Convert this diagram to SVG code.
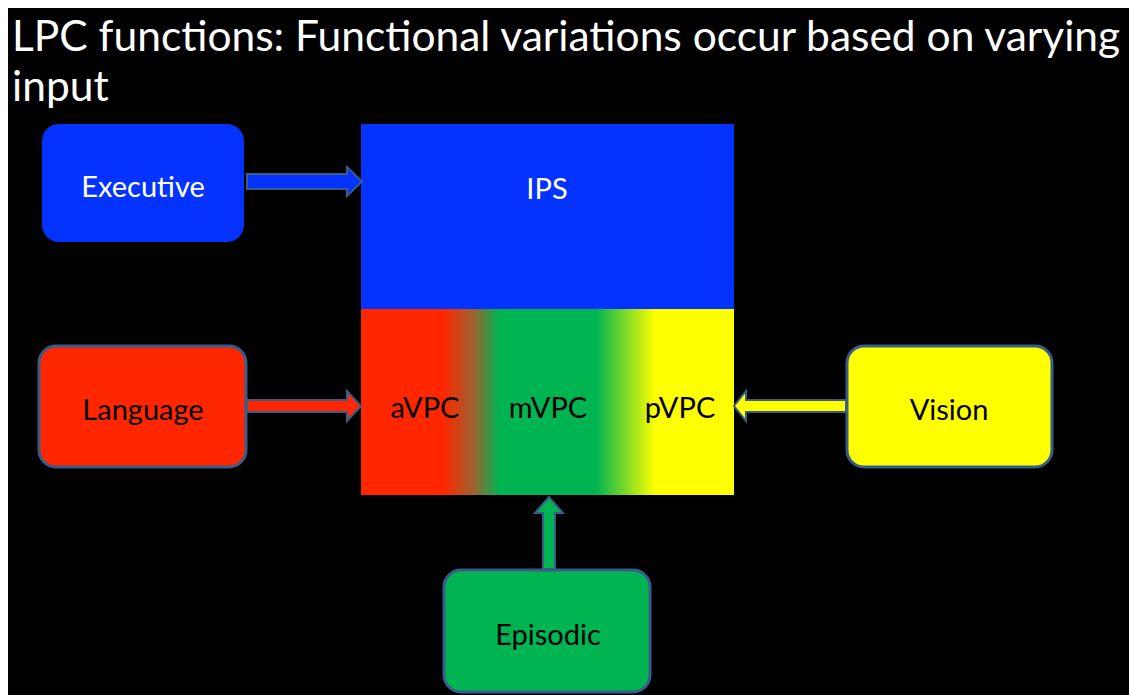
<svg xmlns="http://www.w3.org/2000/svg" width="1129" height="695" viewBox="0 0 1129 695">
<defs>
<style>
.title{font-family:Lato,"Open Sans","Liberation Sans",sans-serif;font-size:42.5px;fill:#fff}
.lbl{font-family:Lato,"Open Sans","Liberation Sans",sans-serif;font-size:29px;text-anchor:middle}
.w{fill:#fff}.k{fill:#000}
.node{stroke:#385D8A;stroke-width:3}
.arr{stroke:#385D8A;stroke-width:2;stroke-linejoin:miter}
</style>
<linearGradient id="vpc" x1="0" y1="0" x2="1" y2="0">
<stop offset="0" stop-color="#FF2600"/>
<stop offset="0.22" stop-color="#FF2600"/>
<stop offset="0.30" stop-color="#A0602D"/>
<stop offset="0.37" stop-color="#00B451"/>
<stop offset="0.63" stop-color="#00B451"/>
<stop offset="0.79" stop-color="#FFFF00"/>
<stop offset="1" stop-color="#FFFF00"/>
</linearGradient>
</defs>
<rect x="0" y="0" width="1129" height="695" fill="#fff"/>
<rect x="8" y="8" width="1121" height="687" fill="#000"/>
<text class="title" x="12" y="51">LPC functions: Functional variations occur based on varying</text>
<text class="title" x="12" y="101">input</text>
<g id="ips">
<rect x="361" y="124" width="373" height="185" fill="#0433FF"/>
<text class="lbl w" x="547" y="199">IPS</text>
</g>
<g id="vpc-region">
<rect x="361" y="309" width="373" height="186" fill="url(#vpc)"/>
<text class="lbl k" x="425" y="418">aVPC</text>
<text class="lbl k" x="548" y="418">mVPC</text>
<text class="lbl k" x="680" y="418">pVPC</text>
</g>
<g id="executive">
<rect x="42" y="124" width="202" height="118" rx="17" fill="#0433FF"/>
<text class="lbl w" x="143" y="197">Executive</text>
</g>
<g id="language">
<rect x="39" y="346" width="207" height="121" rx="17" fill="#FF2600" class="node"/>
<text class="lbl k" x="143" y="420">Language</text>
</g>
<g id="vision">
<rect x="847" y="346" width="205" height="121" rx="17" fill="#FFFF00" class="node"/>
<text class="lbl k" x="949" y="420">Vision</text>
</g>
<g id="episodic">
<rect x="444" y="570" width="206" height="122" rx="17" fill="#00B451" class="node"/>
<text class="lbl k" x="548" y="645">Episodic</text>
</g>
<g id="connectors">
<polygon class="arr" fill="#0433FF" points="247,174 347,174 347,167 362,181.5 347,196 347,189 247,189"/>
<polygon class="arr" fill="#FF2600" points="247,400 347,400 347,391 361,406 347,421 347,412 247,412"/>
<polygon class="arr" fill="#FFFF00" points="846,400 746,400 746,391 734,406 746,421 746,412 846,412"/>
<polygon class="arr" fill="#00B451" points="543,569 543,513 535,513 549,497 563,513 555,513 555,569"/>
</g>
</svg>
